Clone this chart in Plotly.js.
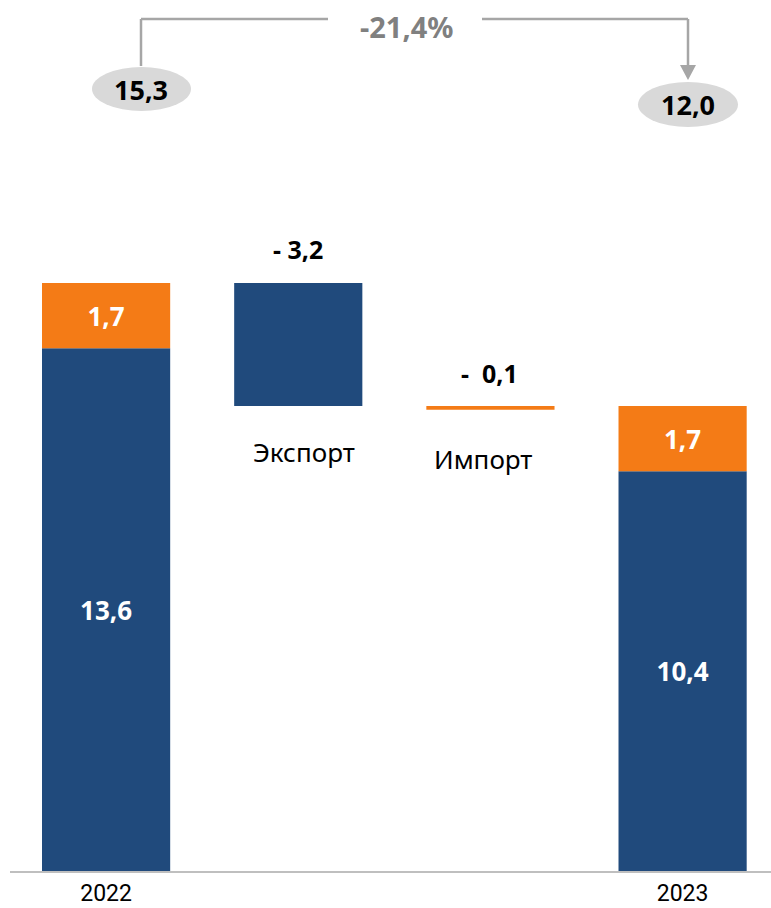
<!DOCTYPE html>
<html><head><meta charset="utf-8">
<script src="https://cdn.plot.ly/plotly-3.0.1.min.js"></script>
<style>html,body{margin:0;padding:0;background:#fff}#c{width:771px;height:908px}</style>
</head><body><div id="c"></div>
<script>
const categories = ['2022', 'Экспорт', 'Импорт', '2023'];
const tickLabels = ['2022', '', '', '2023'];
const blueValues = [13.6, 3.2, null, 10.4];
const blueBase = [0, 12.1, null, 0];
const orangeValues = [1.7, null, 0.1, 1.7];
const orangeBase = [13.6, null, 12.0, 10.4];
const changeLabels = ['- 3,2', '-  0,1'];
const totalLabels = ['15,3', '12,0'];
const pctLabel = '-21,4%';

const BLUE = '#204a7c', ORANGE = '#f47b16';
const W = 771, H = 908, L = 10, R = 0, T = 0, B = 37;
const pw = W - L - R, ph = H - T - B;
const px = x => (x - L) / pw;       // pixel -> paper x
const py = y => (H - B - y) / ph;   // pixel -> paper y
const FONT = 'Noto Sans, Open Sans, sans-serif';

const traces = [
  {type: 'bar', x: categories, y: blueValues, base: blueBase, marker: {color: BLUE},
   width: 0.667, texttemplate: ['%{y:.1f}', '', '', '%{y:.1f}'], textposition: 'inside',
   insidetextanchor: 'middle', textfont: {color: '#fff', size: 26, family: FONT, weight: 'bold'},
   hoverinfo: 'skip'},
  {type: 'bar', x: categories, y: orangeValues, base: orangeBase, marker: {color: ORANGE},
   width: 0.667, texttemplate: ['%{y:.1f}', '', '', '%{y:.1f}'], textposition: 'inside',
   insidetextanchor: 'middle', textfont: {color: '#fff', size: 26, family: FONT, weight: 'bold'},
   hoverinfo: 'skip'}
];

const gray = '#a6a6a6';
const shapes = [
  {type: 'line', xref: 'paper', yref: 'paper', x0: px(141), x1: px(141), y0: py(19), y1: py(66), line: {color: gray, width: 2.5}},
  {type: 'line', xref: 'paper', yref: 'paper', x0: px(141), x1: px(328), y0: py(19), y1: py(19), line: {color: gray, width: 2.5}},
  {type: 'line', xref: 'paper', yref: 'paper', x0: px(482), x1: px(688), y0: py(19), y1: py(19), line: {color: gray, width: 2.5}},
  {type: 'line', xref: 'paper', yref: 'paper', x0: px(688), x1: px(688), y0: py(19), y1: py(66), line: {color: gray, width: 2.5}},
  {type: 'path', xref: 'paper', yref: 'paper',
   path: `M ${px(680)} ${py(65)} L ${px(696)} ${py(65)} L ${px(688)} ${py(80)} Z`,
   fillcolor: gray, line: {width: 0}},
  {type: 'circle', xref: 'paper', yref: 'paper', x0: px(92), x1: px(191), y0: py(111), y1: py(67),
   fillcolor: '#d9d9d9', line: {width: 0}},
  {type: 'circle', xref: 'paper', yref: 'paper', x0: px(638), x1: px(738), y0: py(127), y1: py(82),
   fillcolor: '#d9d9d9', line: {width: 0}}
];

const ann = (x, y, text, size, color, bold) => ({
  xref: 'paper', yref: 'paper', x: px(x), y: py(y), text: text, showarrow: false,
  xanchor: 'center', yanchor: 'middle',
  font: {family: FONT, size: size, color: color, weight: bold ? 'bold' : 'normal'}
});

const annotations = [
  ann(406, 27, pctLabel, 29, '#808080', true),
  ann(141, 89, totalLabels[0], 27, '#000', true),
  ann(688, 104, totalLabels[1], 27, '#000', true),
  ann(298, 249, changeLabels[0], 25, '#000', true),
  ann(489, 373, changeLabels[1], 25, '#000', true),
  ann(304, 452, categories[1], 26, '#000', false),
  ann(483, 459, categories[2], 26, '#000', false)
];

const layout = {
  width: W, height: H, margin: {l: L, r: R, t: T, b: B},
  paper_bgcolor: '#fff', plot_bgcolor: '#fff', showlegend: false,
  barmode: 'overlay', separators: ',.',
  xaxis: {type: 'category', range: [-0.5, 3.46], tickvals: categories, ticktext: tickLabels,
    showline: true, linecolor: '#bfbfbf', linewidth: 2, ticks: '', showgrid: false,
    tickfont: {family: 'Roboto, sans-serif', size: 23, color: '#000'}, fixedrange: true},
  yaxis: {range: [0, 22.66], visible: false, showgrid: false, zeroline: false, fixedrange: true},
  shapes: shapes, annotations: annotations
};

Plotly.newPlot('c', traces, layout, {displayModeBar: false, staticPlot: true});
</script></body></html>
